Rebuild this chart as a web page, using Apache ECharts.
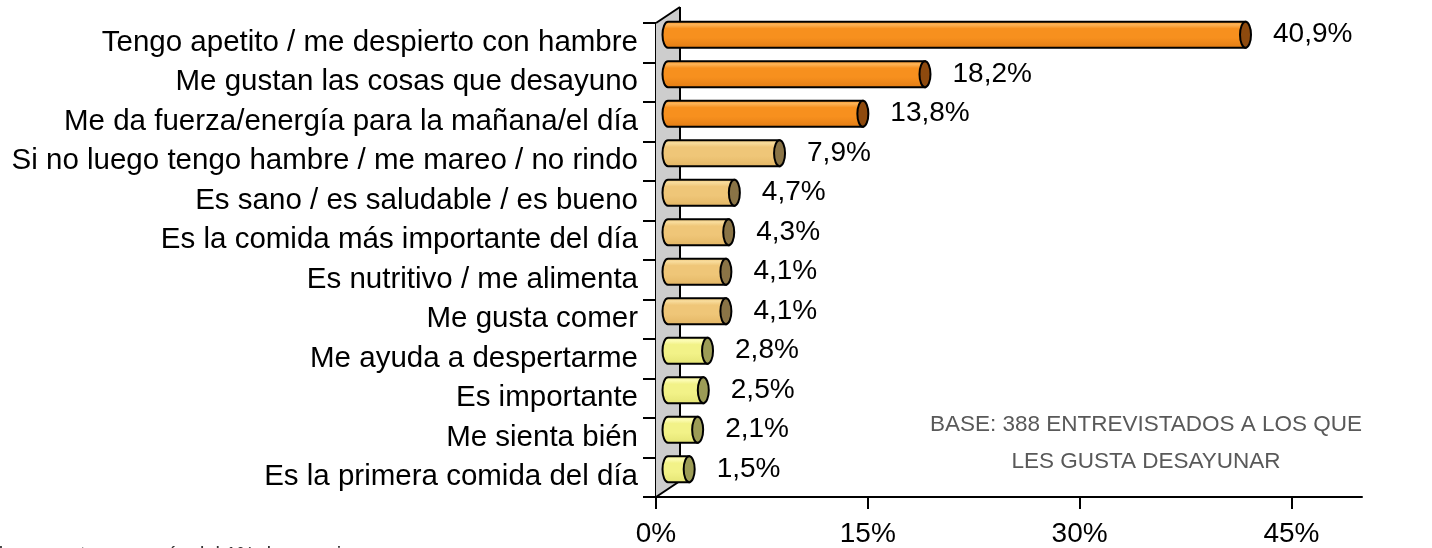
<!DOCTYPE html>
<html><head><meta charset="utf-8">
<script src="https://cdn.jsdelivr.net/npm/echarts@6/dist/echarts.min.js"></script>
<style>html,body{margin:0;padding:0;background:#fff}#c{width:1432px;height:548px}</style>
</head><body><div id="c"></div>
<script>
const categories = [
  'Tengo apetito / me despierto con hambre',
  'Me gustan las cosas que desayuno',
  'Me da fuerza/energía para la mañana/el día',
  'Si no luego tengo hambre / me mareo / no rindo',
  'Es sano / es saludable / es bueno',
  'Es la comida más importante del día',
  'Es nutritivo / me alimenta',
  'Me gusta comer',
  'Me ayuda a despertarme',
  'Es importante',
  'Me sienta bién',
  'Es la primera comida del día'
];
const values = [40.9, 18.2, 13.8, 7.9, 4.7, 4.3, 4.1, 4.1, 2.8, 2.5, 2.1, 1.5];
const xTicks = [0, 15, 30, 45];
const baseNote = ['BASE: 388 ENTREVISTADOS A LOS QUE', 'LES GUSTA DESAYUNAR'];
const footNote = 'Total respuestas con más del 1% de menciones';

const FONT = '"Liberation Sans", Arial, sans-serif';
const DX = 12, DY = -8;   // bar depth offset
const WX = 24, WY = -16;  // wall depth
const palettes = [
  {hi:'#FDB458', mid:'#F7901E', bot:'#E27C14', cap:'#8E4A0E'},
  {hi:'#F8DC9C', mid:'#EFC678', bot:'#E3B664', cap:'#8A7446'},
  {hi:'#FCFCB4', mid:'#F2F288', bot:'#E4E474', cap:'#9C9C56'}
];
function pal(i){ return i < 3 ? palettes[0] : (i < 8 ? palettes[1] : palettes[2]); }
function fmt(v){ return v.toFixed(1).replace('.', ',') + '%'; }

const chart = echarts.init(document.getElementById('c'));
chart.setOption({
  animation: false,
  backgroundColor: '#fff',
  grid: {left: 656, right: 70, top: 23, bottom: 51},
  xAxis: {
    type: 'value', min: 0, max: 50, interval: 5,
    axisLine: {show: true, lineStyle: {color: '#000', width: 2}},
    axisTick: {show: true, customValues: xTicks, length: 12, lineStyle: {color: '#000', width: 2}},
    axisLabel: {customValues: xTicks, formatter: '{value}%', fontSize: 28, color: '#000', margin: 23, fontFamily: FONT},
    splitLine: {show: false}
  },
  yAxis: {
    type: 'category', data: categories, inverse: true,
    axisLine: {show: true, lineStyle: {color: '#000', width: 2}},
    axisTick: {show: true, length: 13, lineStyle: {color: '#000', width: 2}},
    axisLabel: {fontSize: 29.5, color: '#000', margin: 18, fontFamily: FONT, padding: [0, 0, 8, 0]}
  },
  series: [
    {
      type: 'custom', silent: true, z: 1, data: [[0, 0]],
      renderItem(params, api) {
        const cs = params.coordSys;
        const x0 = cs.x, yT = cs.y, yB = cs.y + cs.height;
        const ls = {stroke: '#000', lineWidth: 2};
        return {type: 'group', children: [
          {type: 'polygon', shape: {points: [[x0, yB], [x0, yT], [x0 + WX, yT + WY], [x0 + WX, yB + WY]]}, style: {fill: '#CDCDCD'}},
          {type: 'line', shape: {x1: x0, y1: yT, x2: x0 + WX, y2: yT + WY}, style: ls},
          {type: 'line', shape: {x1: x0 + WX, y1: yT + WY, x2: x0 + WX, y2: yB + WY}, style: ls},
          {type: 'line', shape: {x1: x0, y1: yB, x2: x0 + WX, y2: yB + WY}, style: ls}
        ]};
      }
    },
    {
      type: 'custom', z: 2,
      data: values.map((v, i) => [v, i]),
      encode: {x: 0, y: 1},
      renderItem(params, api) {
        const v = api.value(0), i = api.value(1);
        const p0 = api.coord([0, i]), p1 = api.coord([v, i]);
        const r = 13, rx = 5.5;
        const cx0 = p0[0] + DX, cx1 = p1[0] + DX, cy = p0[1] + DY;
        const c = pal(i);
        const body = `M ${cx0} ${cy - r} L ${cx1} ${cy - r} L ${cx1} ${cy + r} L ${cx0} ${cy + r} A ${rx} ${r} 0 0 1 ${cx0} ${cy - r} Z`;
        const cap = `M ${cx1} ${cy - r} A ${rx} ${r} 0 1 1 ${cx1} ${cy + r} A ${rx} ${r} 0 1 1 ${cx1} ${cy - r} Z`;
        return {type: 'group', children: [
          {type: 'path', shape: {pathData: body}, style: {
            fill: {type: 'linear', x: 0, y: 0, x2: 0, y2: 1, colorStops: [
              {offset: 0, color: c.mid}, {offset: 0.14, color: c.hi}, {offset: 0.28, color: c.mid},
              {offset: 0.6, color: c.mid}, {offset: 1, color: c.bot}]},
            stroke: '#000', lineWidth: 2}},
          {type: 'path', shape: {pathData: cap}, style: {fill: c.cap, stroke: '#000', lineWidth: 2}},
          {type: 'text', style: {text: fmt(v), x: cx1 + rx + 22, y: cy, textVerticalAlign: 'middle', fontSize: 28, fontFamily: FONT, fill: '#000'}}
        ]};
      }
    }
  ],
  graphic: [
    {type: 'text', x: 1146, y: 423, style: {text: baseNote.join('\n'), textAlign: 'center', textVerticalAlign: 'top', fontSize: 22.5, lineHeight: 37, fontFamily: FONT, fill: '#595959'}, top: 406, left: 'auto'},
    {type: 'text', left: -39, top: 545, style: {text: footNote, fontSize: 20, fontFamily: FONT, fill: '#333'}}
  ]
});
</script>
</body></html>
